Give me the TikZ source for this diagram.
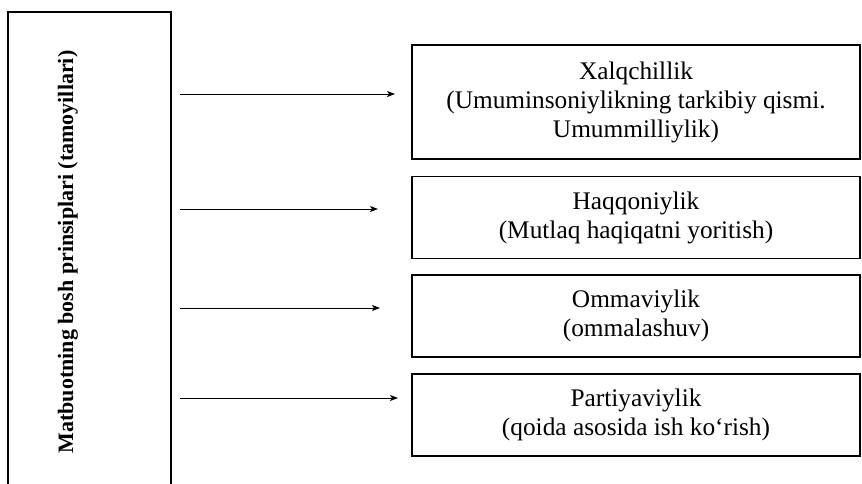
\documentclass[tikz,border=0pt]{standalone}
\usepackage{fontspec}
\setmainfont{Liberation Serif}
\usetikzlibrary{arrows.meta}

\tikzset{
  pbox/.style={draw, line width=0.9pt, minimum width=336pt, align=center,
    inner sep=0pt, font=\fontsize{19}{21.75}\selectfont},
  parrow/.style={line width=0.7pt, shorten <=6.5pt,
    -{Stealth[length=6pt,width=4.5pt,inset=1.5pt]}}
}

\begin{document}
\begin{tikzpicture}[x=0.75pt,y=0.75pt,yscale=-1,xscale=1]
\useasboundingbox (0,0) rectangle (862,483);
\clip (0,0) rectangle (862,483);

%Left box (open at the bottom of the page)
\node [draw, line width=0.9pt, minimum width=122.25pt, minimum height=362.25pt, inner sep=0pt] (lbox) at (89.5,253.5) {};
% Text Node
\node [rotate=90, font=\fontsize{16.5}{18}\selectfont\bfseries] (ltext) at (68,252) {Matbuotning bosh prinsiplari (tamoyillari)};

%Right boxes
\node [pbox, minimum height=85.5pt] (xalq) at (636,102) {Xalqchillik\\(Umuminsoniylikning tarkibiy qismi.\\Umummilliylik)};
\node [pbox, minimum height=61pt] (haqq) at (636,217.5) {Haqqoniylik\\(Mutlaq haqiqatni yoritish)};
\node [pbox, minimum height=61.5pt] (omma) at (636,316) {Ommaviylik\\(ommalashuv)};
\node [pbox, minimum height=61.5pt] (part) at (636,415) {Partiyaviylik\\(qoida asosida ish ko‘rish)};

%Arrow ends
\coordinate (e1) at (395,94);
\coordinate (e2) at (378,209);
\coordinate (e3) at (380,308);
\coordinate (e4) at (398,398);

%Straight Lines
\draw [parrow] (lbox.east |- e1) -- (e1);
\draw [parrow] (lbox.east |- e2) -- (e2);
\draw [parrow] (lbox.east |- e3) -- (e3);
\draw [parrow] (lbox.east |- e4) -- (e4);

\end{tikzpicture}
\end{document}
